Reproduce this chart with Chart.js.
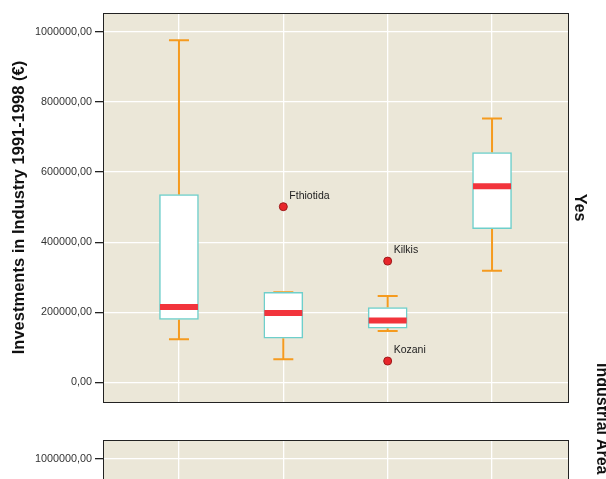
<!DOCTYPE html>
<html>
<head>
<meta charset="utf-8">
<script src="https://cdn.jsdelivr.net/npm/chart.js@4.4.1/dist/chart.umd.min.js"></script>
<style>
  body { margin: 0; background: #fff; width: 606px; height: 479px; overflow: hidden; position: relative; font-family: "Liberation Sans", Arial, sans-serif; }
  #topPanel { position: absolute; left: 0; top: 0; }
  #bottomPanel { position: absolute; left: 0; top: 427px; }
  #rowTitle { position: absolute; left: 593px; top: 363px; writing-mode: vertical-rl; font-weight: bold; font-size: 16px; color: #111; white-space: nowrap; }
</style>
</head>
<body>
<canvas id="topPanel" width="606" height="427"></canvas>
<canvas id="bottomPanel" width="606" height="427"></canvas>
<div id="rowTitle">Industrial Area</div>
<script>
// groups sit at x = 0..3 (no category labels are visible in this crop)
const groups = [0, 1, 2, 3];
const whiskerLow = [123000, 65800, 146700, 318300];
const q1 = [179300, 125800, 154400, 438400];
const median = [215300, 198200, 176400, 559600];
const q3 = [535600, 257000, 213600, 655700];
const whiskerHigh = [976000, 257000, 246800, 752900];

const outlierGroup = [1, 2, 2];
const outlierValue = [501300, 346000, 60900];
const outlierName = ['Fthiotida', 'Kilkis', 'Kozani'];

const yTicks = [0, 200000, 400000, 600000, 800000, 1000000];

const FONT = '"Liberation Sans", Arial, sans-serif';

// whiskers, medians, labels and panel frame
const boxExtras = {
    id: 'boxExtras',
    beforeDraw(chart) {
        const { ctx, chartArea: a } = chart;
        ctx.save();
        ctx.fillStyle = '#EBE7D8';
        ctx.fillRect(a.left, a.top, a.right - a.left, a.bottom - a.top);
        ctx.restore();
    },
    beforeDatasetsDraw(chart) {
        const b = chart.options.plugins.boxExtras;
        const x = chart.scales.x, y = chart.scales.y, ctx = chart.ctx;
        ctx.save();
        ctx.strokeStyle = '#F59B1F';
        ctx.lineWidth = 2;
        b.groups.forEach((g, i) => {
            const px = x.getPixelForValue(g);
            const lo = y.getPixelForValue(b.lo[i]), hi = y.getPixelForValue(b.hi[i]);
            const bq1 = y.getPixelForValue(b.q1[i]), bq3 = y.getPixelForValue(b.q3[i]);
            ctx.beginPath();
            ctx.moveTo(px, bq1); ctx.lineTo(px, lo);
            ctx.moveTo(px, bq3); ctx.lineTo(px, hi);
            ctx.moveTo(px - 10, lo); ctx.lineTo(px + 10, lo);
            ctx.moveTo(px - 10, hi); ctx.lineTo(px + 10, hi);
            ctx.stroke();
        });
        ctx.restore();
    },
    afterDatasetsDraw(chart) {
        const b = chart.options.plugins.boxExtras;
        const x = chart.scales.x, y = chart.scales.y, ctx = chart.ctx;
        ctx.save();
        ctx.strokeStyle = '#F2343C';
        ctx.lineWidth = 6;
        b.groups.forEach((g, i) => {
            const px = x.getPixelForValue(g);
            const py = y.getPixelForValue(b.med[i]);
            ctx.beginPath();
            ctx.moveTo(px - 19, py); ctx.lineTo(px + 19, py);
            ctx.stroke();
        });
        ctx.fillStyle = '#222';
        ctx.font = '10.5px ' + FONT;
        ctx.textAlign = 'left';
        b.outGroup.forEach((g, i) => {
            const px = x.getPixelForValue(g);
            const py = y.getPixelForValue(b.outVal[i]);
            ctx.fillText(b.outName[i], px + 6, py - 8);
        });
        ctx.restore();
    },
    afterDraw(chart) {
        const b = chart.options.plugins.boxExtras;
        const { ctx, chartArea: a } = chart;
        ctx.save();
        ctx.strokeStyle = '#222';
        ctx.lineWidth = 1;
        ctx.strokeRect(Math.round(a.left) + 0.5, Math.round(a.top) + 0.5,
            Math.round(a.right - a.left), Math.round(a.bottom - a.top));
        if (b.side) {
            ctx.translate(579, (a.top + a.bottom) / 2);
            ctx.rotate(Math.PI / 2);
            ctx.fillStyle = '#111';
            ctx.font = 'bold 16px ' + FONT;
            ctx.textAlign = 'center';
            ctx.textBaseline = 'middle';
            ctx.fillText(b.side, 0, 0);
        }
        ctx.restore();
    }
};

function panelConfig(showData, side) {
    const pick = arr => (showData ? arr : []);
    return {
        type: 'bar',
        data: {
            datasets: [{
                label: 'Box',
                data: pick(groups).map((g, i) => ({ x: g, y: [q1[i], q3[i]] })),
                backgroundColor: '#FFFFFF',
                borderColor: '#6ECFCB',
                borderWidth: 1.5,
                borderSkipped: false,
                barThickness: 39
            }, {
                type: 'scatter',
                label: 'Outliers',
                data: pick(outlierGroup).map((g, i) => ({ x: g, y: outlierValue[i] })),
                pointRadius: 4,
                pointHoverRadius: 4,
                backgroundColor: '#E8262B',
                borderColor: '#9E1B1B',
                borderWidth: 1
            }]
        },
        options: {
            responsive: false,
            animation: false,
            layout: { padding: { top: 13, right: 38, bottom: 25, left: 0 } },
            plugins: {
                legend: { display: false },
                tooltip: { enabled: false },
                boxExtras: {
                    groups: pick(groups), lo: whiskerLow, hi: whiskerHigh, q1: q1, q3: q3, med: median,
                    outGroup: pick(outlierGroup), outVal: outlierValue, outName: outlierName,
                    side: side
                }
            },
            scales: {
                x: {
                    type: 'linear',
                    offset: false,
                    min: -0.728,
                    max: 3.728,
                    afterBuildTicks: s => { s.ticks = groups.map(v => ({ value: v })); },
                    afterFit: s => { s.height = 0; },
                    ticks: { display: false },
                    grid: { color: '#FFFFFF', lineWidth: 1.3, drawTicks: false, offset: false },
                    border: { display: false }
                },
                y: {
                    type: 'linear',
                    min: -56000,
                    max: 1054000,
                    afterBuildTicks: s => { s.ticks = yTicks.map(v => ({ value: v })); },
                    afterFit: s => { s.width = 103; },
                    ticks: {
                        callback: v => v.toFixed(2).replace('.', ','),
                        font: { family: FONT, size: 10.8 },
                        color: '#333',
                        padding: 3
                    },
                    grid: { color: '#FFFFFF', lineWidth: 1.3, tickColor: '#222', tickLength: 8 },
                    border: { display: false },
                    title: {
                        display: true,
                        text: 'Investments in Industry 1991-1998 (€)',
                        font: { family: FONT, size: 16.5, weight: 'bold' },
                        color: '#111',
                        padding: { top: 10, bottom: 0 }
                    }
                }
            }
        },
        plugins: [boxExtras]
    };
}

new Chart(document.getElementById('topPanel'), panelConfig(true, 'Yes'));
new Chart(document.getElementById('bottomPanel'), panelConfig(false, 'No'));
</script>
</body>
</html>
